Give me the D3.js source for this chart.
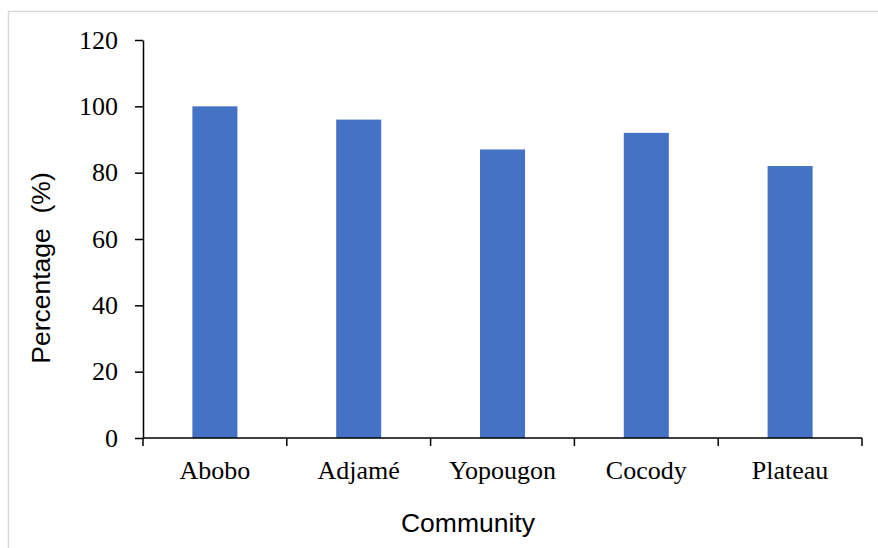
<!DOCTYPE html>
<html>
<head>
<meta charset="utf-8">
<script src="https://cdn.jsdelivr.net/npm/d3@7"></script>
<style>
  body { margin: 0; background: #fff; }
  svg { display: block; }
</style>
</head>
<body>
<svg id="chart"></svg>
<script>
// data
const communities = ["Abobo", "Adjamé", "Yopougon", "Cocody", "Plateau"];
const percentages = [100, 96, 87, 92, 82];
const yTicks = [0, 20, 40, 60, 80, 100, 120];

const width = 878, height = 548;
const margin = {top: 40, right: 16, bottom: 110, left: 143};
const serif = '"Liberation Serif", "Times New Roman", serif';
const sans = '"Liberation Sans", Arial, sans-serif';

const svg = d3.select('#chart')
    .attr('width', width)
    .attr('height', height);

// outer frame
svg.append('rect')
    .attr('x', 8.5).attr('y', 11.5)
    .attr('width', width + 20).attr('height', height + 20)
    .attr('fill', 'none')
    .attr('stroke', '#d9d9d9')
    .attr('stroke-width', 1.5);

const xScale = d3.scaleBand()
    .domain(communities)
    .range([margin.left, width - margin.right]);

const yScale = d3.scaleLinear()
    .domain([0, 120])
    .range([height - margin.bottom, margin.top]);

const barW = xScale.bandwidth() * 0.313;

// bars
svg.append('g').selectAll('rect')
  .data(communities)
  .join('rect')
    .attr('x', d => xScale(d) + (xScale.bandwidth() - barW) / 2)
    .attr('y', (d, i) => yScale(percentages[i]))
    .attr('width', barW)
    .attr('height', (d, i) => yScale(0) - yScale(percentages[i]))
    .attr('fill', '#4472c4');

// y axis
const yAxis = d3.axisLeft(yScale)
    .tickValues(yTicks)
    .tickSize(8)
    .tickPadding(17)
    .tickSizeOuter(0);

const yAxisG = svg.append('g')
    .attr('transform', `translate(${margin.left},0)`)
    .call(yAxis)
    .attr('font-family', serif)
    .attr('font-size', 26);
yAxisG.select('.domain').attr('stroke', '#000').attr('stroke-width', 1.5);
yAxisG.selectAll('.tick line').attr('stroke', '#000').attr('stroke-width', 1.5);
yAxisG.selectAll('.tick text').attr('fill', '#000');

// x axis: line, ticks at category boundaries, labels under centres
const x0 = yScale(0);
const xAxisG = svg.append('g');
xAxisG.append('line')
    .attr('x1', margin.left).attr('x2', width - margin.right)
    .attr('y1', x0).attr('y2', x0)
    .attr('stroke', '#000').attr('stroke-width', 1.5);

const bounds = communities.map(d => xScale(d)).concat([xScale.range()[1]]);
xAxisG.selectAll('.xtick')
  .data(bounds)
  .join('line')
    .attr('class', 'xtick')
    .attr('x1', d => d).attr('x2', d => d)
    .attr('y1', x0).attr('y2', x0 + 8)
    .attr('stroke', '#000').attr('stroke-width', 1.5);

xAxisG.selectAll('.cat-label')
  .data(communities)
  .join('text')
    .attr('class', 'cat-label')
    .attr('x', d => xScale(d) + xScale.bandwidth() / 2)
    .attr('y', 479)
    .attr('text-anchor', 'middle')
    .attr('font-family', serif)
    .attr('font-size', 26)
    .text(d => d);

// axis titles
svg.append('text')
    .attr('x', 468)
    .attr('y', 532)
    .attr('text-anchor', 'middle')
    .attr('font-family', sans)
    .attr('font-size', 26.5)
    .text('Community');

svg.append('text')
    .attr('transform', `translate(50,${(margin.top + x0) / 2 + 29}) rotate(-90)`)
    .attr('text-anchor', 'middle')
    .attr('font-family', sans)
    .attr('font-size', 26.5)
    .style('white-space', 'pre')
    .text('Percentage  (%)');
</script>
</body>
</html>
